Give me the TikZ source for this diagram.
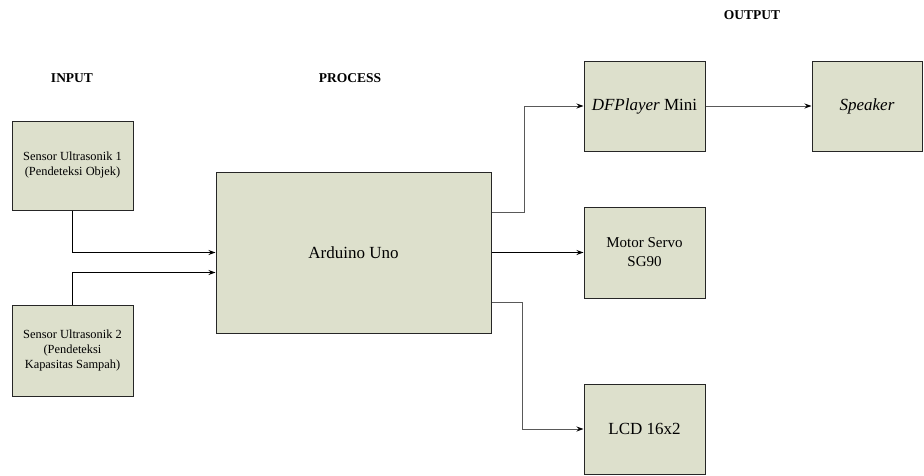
\documentclass[tikz,border=0pt]{standalone}
\usepackage{fontspec}
\setmainfont{Liberation Serif}
\newfontfamily\timesfont{Liberation Serif}
\usepackage{tikz}
\usetikzlibrary{arrows.meta}
\definecolor{blockfill}{RGB}{221,224,204}

\begin{document}
\begin{tikzpicture}[
    x=1pt, y=-1pt,
    block/.style={draw=black!85, line width=1pt, fill=blockfill, align=center,
                  inner sep=2pt, minimum width=121pt, minimum height=90pt,
                  font=\timesfont\fontsize{17}{19}\selectfont},
    small/.style={font=\timesfont\fontsize{12.4}{15}\selectfont},
    header/.style={font=\timesfont\bfseries\fontsize{13.5}{15}\selectfont},
    link/.style={-{Stealth[length=7pt, width=5pt, color=black]}, line width=1pt},
    greylink/.style={link, draw=black!65}
]

\useasboundingbox (0,0) rectangle (924,475);

% column headers
\node[header] (inputlbl) at (72,78) {INPUT};
\node[header] (processlbl) at (350,78) {PROCESS};
\node[header] (outputlbl) at (752,15) {OUTPUT};

% input
\node[block, small, minimum height=89pt] (sensor1) at (72.5,165.5)
    {Sensor Ultrasonik 1\\(Pendeteksi Objek)};
\node[block, small, minimum height=91pt] (sensor2) at (72.5,350.5)
    {Sensor Ultrasonik 2\\(Pendeteksi\\Kapasitas Sampah)};

% process
\node[block, minimum width=275pt, minimum height=161pt] (arduino) at (353.5,252.5)
    {Arduino Uno};

% output
\node[block] (dfplayer) at (644.5,106) {\textit{DFPlayer} Mini};
\node[block, font=\timesfont\fontsize{15}{19}\selectfont, minimum height=91pt] (servo) at (644.5,252.5)
    {Motor Servo\\SG90};
\node[block] (lcd) at (644.5,429) {LCD 16x2};
\node[block, minimum width=110pt] (speaker) at (867,106) {\textit{Speaker}};

% connections
\draw[link] (sensor1.south) |- (arduino.west);
\draw[link] (sensor2.north) |- ([yshift=-20pt]arduino.west);

\draw[greylink] ([yshift=40pt]arduino.east) -- ++(33,0) |- (dfplayer.west);
\draw[link] (arduino.east) -- (servo.west);
\draw[greylink] ([yshift=-50pt]arduino.east) -- ++(31,0) |- (lcd.west);

\draw[greylink] (dfplayer.east) -- (speaker.west);

\end{tikzpicture}
\end{document}
